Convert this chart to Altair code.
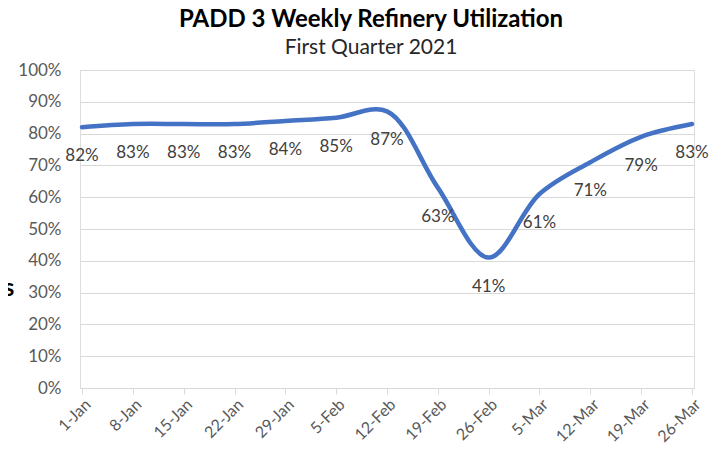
import altair as alt
import pandas as pd

weeks = ["1-Jan", "8-Jan", "15-Jan", "22-Jan", "29-Jan", "5-Feb", "12-Feb",
         "19-Feb", "26-Feb", "5-Mar", "12-Mar", "19-Mar", "26-Mar"]
util = [0.82, 0.83, 0.83, 0.83, 0.84, 0.85, 0.87, 0.63, 0.41, 0.61, 0.71, 0.79, 0.83]
y_ticks = [0, 0.1, 0.2, 0.3, 0.4, 0.5, 0.6, 0.7, 0.8, 0.9, 1.0]
stray_text = ["s"]
stray_y = [0.31]

df = pd.DataFrame({"week": weeks, "util": util,
                   "label": [f"{round(v * 100)}%" for v in util]})
stray = pd.DataFrame({"t": stray_text, "util": stray_y})

FONT = "Lato"

x = alt.X("week:O", sort=weeks,
          scale=alt.Scale(type="point", padding=0.04),
          axis=alt.Axis(title=None, labelAngle=-45, labelFontSize=16,
                        labelColor="#595959", labelFont=FONT,
                        ticks=True, tickSize=6, tickColor="#d9d9d9",
                        domainColor="#d9d9d9", domainWidth=1, grid=False,
                        labelPadding=2))
y = alt.Y("util:Q", scale=alt.Scale(domain=[0, 1]),
          axis=alt.Axis(title=None, format=".0%", values=y_ticks, grid=True,
                        gridColor="#d9d9d9", gridWidth=1, domain=False,
                        ticks=False, labelFontSize=17, labelColor="#595959",
                        labelFont=FONT, labelPadding=19, labelOverlap=False))

base = alt.Chart(df)
line = base.mark_line(interpolate="catmull-rom", color="#4472C4",
                      strokeWidth=4.5, strokeCap="round").encode(x=x, y=y)
labels = base.mark_text(dy=29, fontSize=17, font=FONT, color="#404040",
                        baseline="middle", align="center").encode(
    x=x, y=y, text="label:N")
stray_mark = alt.Chart(stray).mark_text(fontSize=24, fontWeight="bold", font=FONT,
                                        color="#000000", align="center",
                                        baseline="middle").encode(
    x=alt.value(-71), y=y, text="t:N")

chart = alt.layer(line, labels, stray_mark).properties(
    width=614, height=318,
    title=alt.TitleParams(
        text="PADD 3 Weekly Refinery Utilization",
        subtitle="First Quarter 2021",
        font=FONT, fontSize=24, fontWeight="bold", color="#000000",
        subtitleFont=FONT, subtitleFontSize=21, subtitleColor="#262626",
        anchor="middle", dx=-16, offset=3, subtitlePadding=5),
    autosize=alt.AutoSizeParams(type="none"),
    padding={"left": 72, "top": 62, "right": 18, "bottom": 60},
).configure_view(stroke=None).configure(background="white")

chart.save("out.html", embed_options={"renderer": "svg", "actions": False})
